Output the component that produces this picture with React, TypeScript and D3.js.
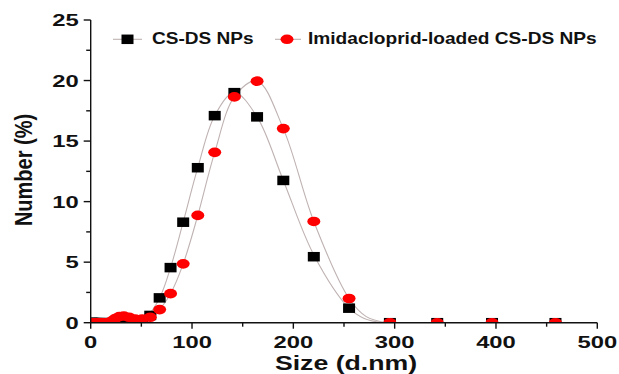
import * as d3 from "d3";

const WIDTH = 619;
const HEIGHT = 374;
const PLOT = { left: 90.7, right: 597.3, top: 20, bottom: 322.7 };
const FONT = "'Liberation Sans', Arial, sans-serif";

// DLS size bins (d.nm)
const sizes = [
  0.4, 0.4632, 0.5365, 0.6213, 0.7195, 0.8332, 0.9649, 1.117, 1.294, 1.499,
  1.736, 2.01, 2.328, 2.696, 3.122, 3.615, 4.187, 4.849, 5.615, 6.503, 7.531,
  8.721, 10.1, 11.7, 13.54, 15.69, 18.17, 21.04, 24.36, 28.21, 32.67, 37.84,
  43.82, 50.75, 58.77, 68.06, 78.82, 91.28, 105.7, 122.4, 141.8, 164.2, 190.1,
  220.2, 255.0, 295.3, 342.0, 396.1, 458.7,
];

// Number (%) for CS-DS NPs
const csds = [
  0, 0, 0, 0, 0, 0, 0, 0, 0, 0, 0, 0, 0, 0, 0, 0, 0, 0, 0, 0, 0, 0, 0, 0, 0, 0,
  0, 0, 0, 0, 0, 0, 0, 0, 0.6, 2.05, 4.55, 8.3, 12.8, 17.1, 19.0, 17.0, 11.75,
  5.45, 1.2, 0, 0, 0, 0,
];

// Number (%) for Imidacloprid-loaded CS-DS NPs
const loaded = [
  0, 0, 0, 0, 0, 0, 0, 0, 0, 0, 0, 0, 0, 0, 0, 0, 0, 0, 0, 0, 0, 0, 0, 0, 0, 0,
  0, 0.15, 0.35, 0.5, 0.55, 0.45, 0.3, 0.3, 0.45, 1.08, 2.4, 4.86, 8.86, 14.07,
  18.65, 19.95, 16.03, 8.36, 2.0, 0, 0, 0, 0,
];

// fitted curves, points
const fitCsdsX = [48, 55, 68.06, 78.82, 91.28, 105.7, 122.4, 141.8, 164.2, 190.1, 220.2, 255, 270, 288];
const fitCsdsY = [0, 0.44, 2.05, 4.55, 8.3, 12.8, 17.1, 19.0, 17.0, 11.75, 5.6, 1.2, 0.35, 0];
const fitLoadedX = [57, 62, 68.06, 78.82, 91.28, 105.7, 122.4, 141.8, 164.2, 190.1, 220.2, 255, 272, 292];
const fitLoadedY = [0, 0.4, 1.08, 2.4, 4.86, 8.86, 14.07, 18.65, 19.95, 16.03, 8.36, 2.0, 0.5, 0];

const legendLabels = ["CS-DS NPs", "Imidacloprid-loaded CS-DS NPs"];

const FIT_COLOR = "#bfb2b2";

export default function App() {
  const x = d3.scaleLinear().domain([0, 500]).range([PLOT.left, PLOT.right]);
  const y = d3.scaleLinear().domain([0, 25]).range([PLOT.bottom, PLOT.top]);

  const line = d3
    .line<[number, number]>()
    .x((d) => x(d[0]))
    .y((d) => y(d[1]))
    .curve(d3.curveCatmullRom.alpha(0.5));

  const xTicks = x.ticks(5);
  const yTicks = y.ticks(5);
  const xMinor = xTicks.slice(0, -1).map((t, i) => (t + xTicks[i + 1]) / 2);
  const yMinor = yTicks.slice(0, -1).map((t, i) => (t + yTicks[i + 1]) / 2);

  const sq = { w: 12, h: 9.5 };
  const circ = { rx: 6.5, ry: 4.8 };

  return (
    <svg
      width={WIDTH}
      height={HEIGHT}
      style={{ position: "absolute", left: 0, top: 0, background: "#fff" }}
      fontFamily={FONT}
      fontWeight="bold"
    >
      <defs>
        <clipPath id="plot-clip">
          <rect
            x={PLOT.left}
            y={PLOT.top}
            width={PLOT.right - PLOT.left}
            height={PLOT.bottom - PLOT.top}
          />
        </clipPath>
      </defs>

      <g clipPath="url(#plot-clip)">
        <path
          d={line(fitCsdsX.map((v, i) => [v, fitCsdsY[i]]))!}
          fill="none"
          stroke={FIT_COLOR}
          strokeWidth={1.1}
        />
        <path
          d={line(fitLoadedX.map((v, i) => [v, fitLoadedY[i]]))!}
          fill="none"
          stroke={FIT_COLOR}
          strokeWidth={1.1}
        />
        {sizes.map((s, i) => (
          <rect
            key={"b" + i}
            x={x(s) - sq.w / 2}
            y={y(csds[i]) - sq.h / 2}
            width={sq.w}
            height={sq.h}
            fill="#000"
          />
        ))}
        {sizes.map((s, i) => (
          <ellipse
            key={"r" + i}
            cx={x(s)}
            cy={y(loaded[i])}
            rx={circ.rx}
            ry={circ.ry}
            fill="#ff0000"
          />
        ))}
      </g>

      {/* axes */}
      <g stroke="#111" strokeWidth={1.4} fill="none">
        <line x1={PLOT.left} x2={PLOT.left} y1={PLOT.top} y2={PLOT.bottom} />
        <line x1={PLOT.left} x2={PLOT.right} y1={PLOT.bottom} y2={PLOT.bottom} />
        {yTicks.map((t) => (
          <line key={"yt" + t} x1={PLOT.left - 7} x2={PLOT.left} y1={y(t)} y2={y(t)} />
        ))}
        {yMinor.map((t) => (
          <line key={"ym" + t} x1={PLOT.left - 4.5} x2={PLOT.left} y1={y(t)} y2={y(t)} />
        ))}
        {xTicks.map((t) => (
          <line key={"xt" + t} x1={x(t)} x2={x(t)} y1={PLOT.bottom} y2={PLOT.bottom + 6} />
        ))}
        {xMinor.map((t) => (
          <line key={"xm" + t} x1={x(t)} x2={x(t)} y1={PLOT.bottom} y2={PLOT.bottom + 4} />
        ))}
      </g>

      {yTicks.map((t) => (
        <text
          key={"yl" + t}
          transform={`translate(${PLOT.left - 12},${y(t) + 6}) scale(1.4,1)`}
          textAnchor="end"
          fontSize={17}
          fill="#111"
        >
          {t}
        </text>
      ))}
      {xTicks.map((t) => (
        <text
          key={"xl" + t}
          transform={`translate(${x(t)},${PLOT.bottom + 25.5}) scale(1.4,1)`}
          textAnchor="middle"
          fontSize={17}
          fill="#111"
        >
          {t}
        </text>
      ))}

      <text
        transform={`translate(${(PLOT.left + PLOT.right) / 2 + 2},370) scale(1.27,1)`}
        textAnchor="middle"
        fontSize={21}
        fill="#111"
      >
        Size (d.nm)
      </text>
      <text
        transform="translate(32,170) rotate(-90) scale(1,1.2)"
        textAnchor="middle"
        fontSize={20}
        fill="#111"
      >
        Number (%)
      </text>

      {/* legend */}
      <g>
        <line x1={113} x2={142} y1={39.3} y2={39.3} stroke={FIT_COLOR} strokeWidth={1.1} />
        <rect x={127.5 - sq.w / 2} y={39.3 - sq.h / 2} width={sq.w} height={sq.h} fill="#000" />
        <text transform="translate(152,43.5) scale(1.19,1)" fontSize={16} fill="#111">
          {legendLabels[0]}
        </text>
        <line x1={275} x2={301} y1={39.3} y2={39.3} stroke={FIT_COLOR} strokeWidth={1.1} />
        <ellipse cx={287} cy={39.3} rx={circ.rx} ry={circ.ry} fill="#ff0000" />
        <text transform="translate(308,43.5) scale(1.195,1)" fontSize={16} fill="#111">
          {legendLabels[1]}
        </text>
      </g>
    </svg>
  );
}
